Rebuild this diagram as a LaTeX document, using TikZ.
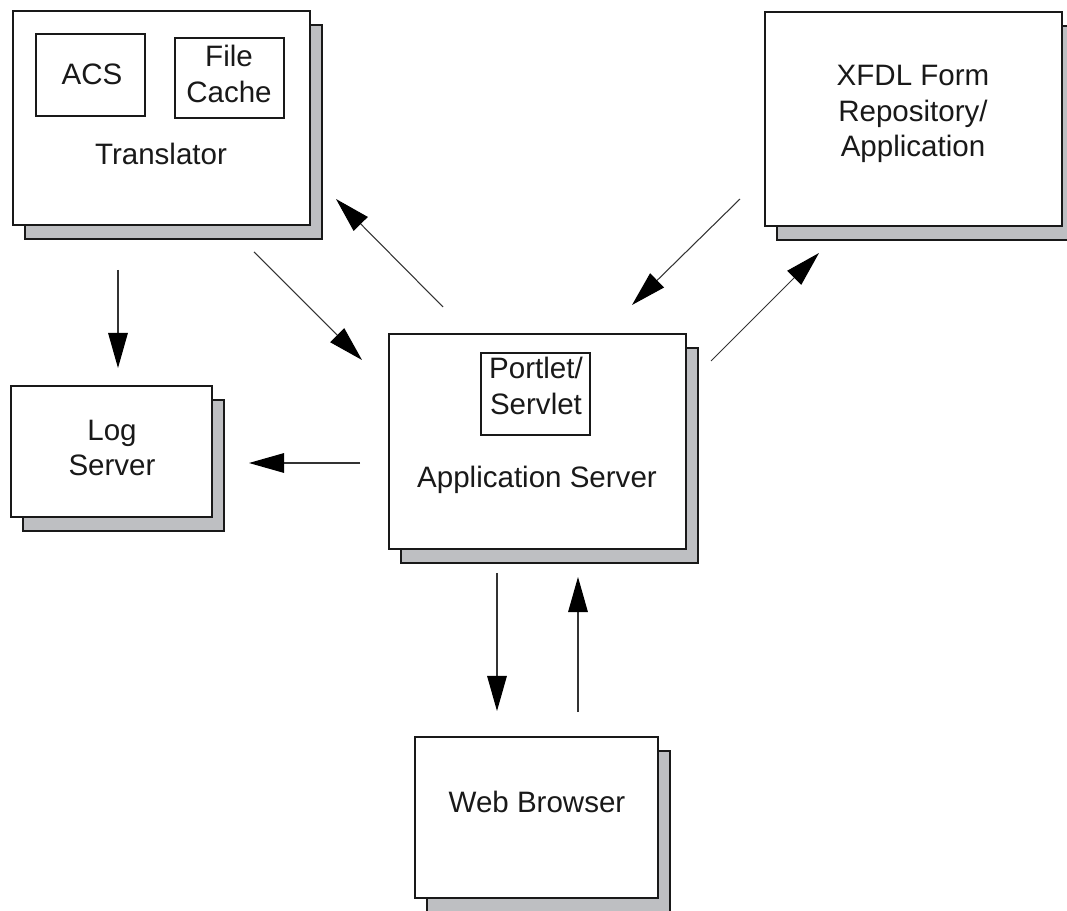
\documentclass[tikz,border=0pt]{standalone}
\usepackage{fontspec}
\setmainfont{Liberation Sans}
\usetikzlibrary{arrows.meta,shadows}
\definecolor{shadegray}{RGB}{190,191,194}
\tikzset{
  srvbox/.style={draw=black!90, line width=0.9pt, fill=white, inner sep=0pt,
    copy shadow={shadow xshift=0.3cm, shadow yshift=-0.35cm, fill=shadegray,
      draw=black!90, line width=0.9pt}},
  subbox/.style={draw=black!90, line width=0.9pt, inner sep=0pt},
  txt/.style={align=center, inner sep=0pt, text=black!90},
  flow/.style={draw=black!80, line width=0.75pt,
    -{Triangle[length=25pt, width=14pt, color=black, fill=black]}}
}
\begin{document}
\begin{tikzpicture}[x=0.025cm, y=-0.025cm,
    every node/.append style={font=\fontsize{21}{25.5}\selectfont}]
  \useasboundingbox (0,0) rectangle (1067,911);

  % Translator with ACS and file cache
  \node [srvbox, minimum width=7.425cm, minimum height=5.35cm] (trans) at (161.5,118) {};%
  \node [subbox, minimum width=2.725cm, minimum height=2.05cm] (acs) at (90.5,75) {};%
  \node [subbox, minimum width=2.725cm, minimum height=2.0cm] (cache) at (229.5,78) {};%
  \node [txt] (acs-t) at (92,74) {ACS};%
  \node [txt] (cache-t) at (229,74) {File\\Cache};%
  \node [txt] (trans-t) at (161,154) {Translator};%

  % XFDL form repository
  \node [srvbox, minimum width=7.425cm, minimum height=5.35cm] (xfdl) at (913.5,119) {};%
  \node [txt] (xfdl-t) at (913,114) {XFDL Form\\Repository/\\Application};%

  % Application server with portlet
  \node [srvbox, minimum width=7.425cm, minimum height=5.375cm] (app) at (537.5,441.5) {};%
  \node [subbox, minimum width=2.725cm, minimum height=2.05cm] (portlet) at (535.5,394) {};%
  \node [txt] (portlet-t) at (536,386) {Portlet/\\Servlet};%
  \node [txt] (app-t) at (537,480) {Application Server};%

  % Log server
  \node [srvbox, minimum width=5.025cm, minimum height=3.275cm] (log) at (111.5,451.5) {};%
  \node [txt] (log-t) at (112,448) {Log\\Server};%

  % Web browser
  \node [srvbox, minimum width=6.075cm, minimum height=4.025cm] (web) at (536.5,817.5) {};%
  \node [txt] (web-t) at (537,802) {Web Browser};%

  % Arrow end points
  \coordinate (t2l-s) at (118,270);  \coordinate (t2l-e) at (118,368);%
  \coordinate (t2a-s) at (254,252);  \coordinate (t2a-e) at (362,360);%
  \coordinate (a2t-s) at (443,307);  \coordinate (a2t-e) at (336,199);%
  \coordinate (x2a-s) at (740,199);  \coordinate (x2a-e) at (632,305);%
  \coordinate (a2x-s) at (711,361);  \coordinate (a2x-e) at (819,253);%
  \coordinate (a2l-s) at (360,463);  \coordinate (a2l-e) at (249,463);%
  \coordinate (a2w-s) at (497,573);  \coordinate (a2w-e) at (497,711);%
  \coordinate (w2a-s) at (578,712);  \coordinate (w2a-e) at (578,577);%

  % Drawing arrows
  \draw [flow] (t2l-s) -- (t2l-e);%
  \draw [flow] (t2a-s) -- (t2a-e);%
  \draw [flow] (a2t-s) -- (a2t-e);%
  \draw [flow] (x2a-s) -- (x2a-e);%
  \draw [flow] (a2x-s) -- (a2x-e);%
  \draw [flow] (a2l-s) -- (a2l-e);%
  \draw [flow] (a2w-s) -- (a2w-e);%
  \draw [flow] (w2a-s) -- (w2a-e);%
\end{tikzpicture}
\end{document}
